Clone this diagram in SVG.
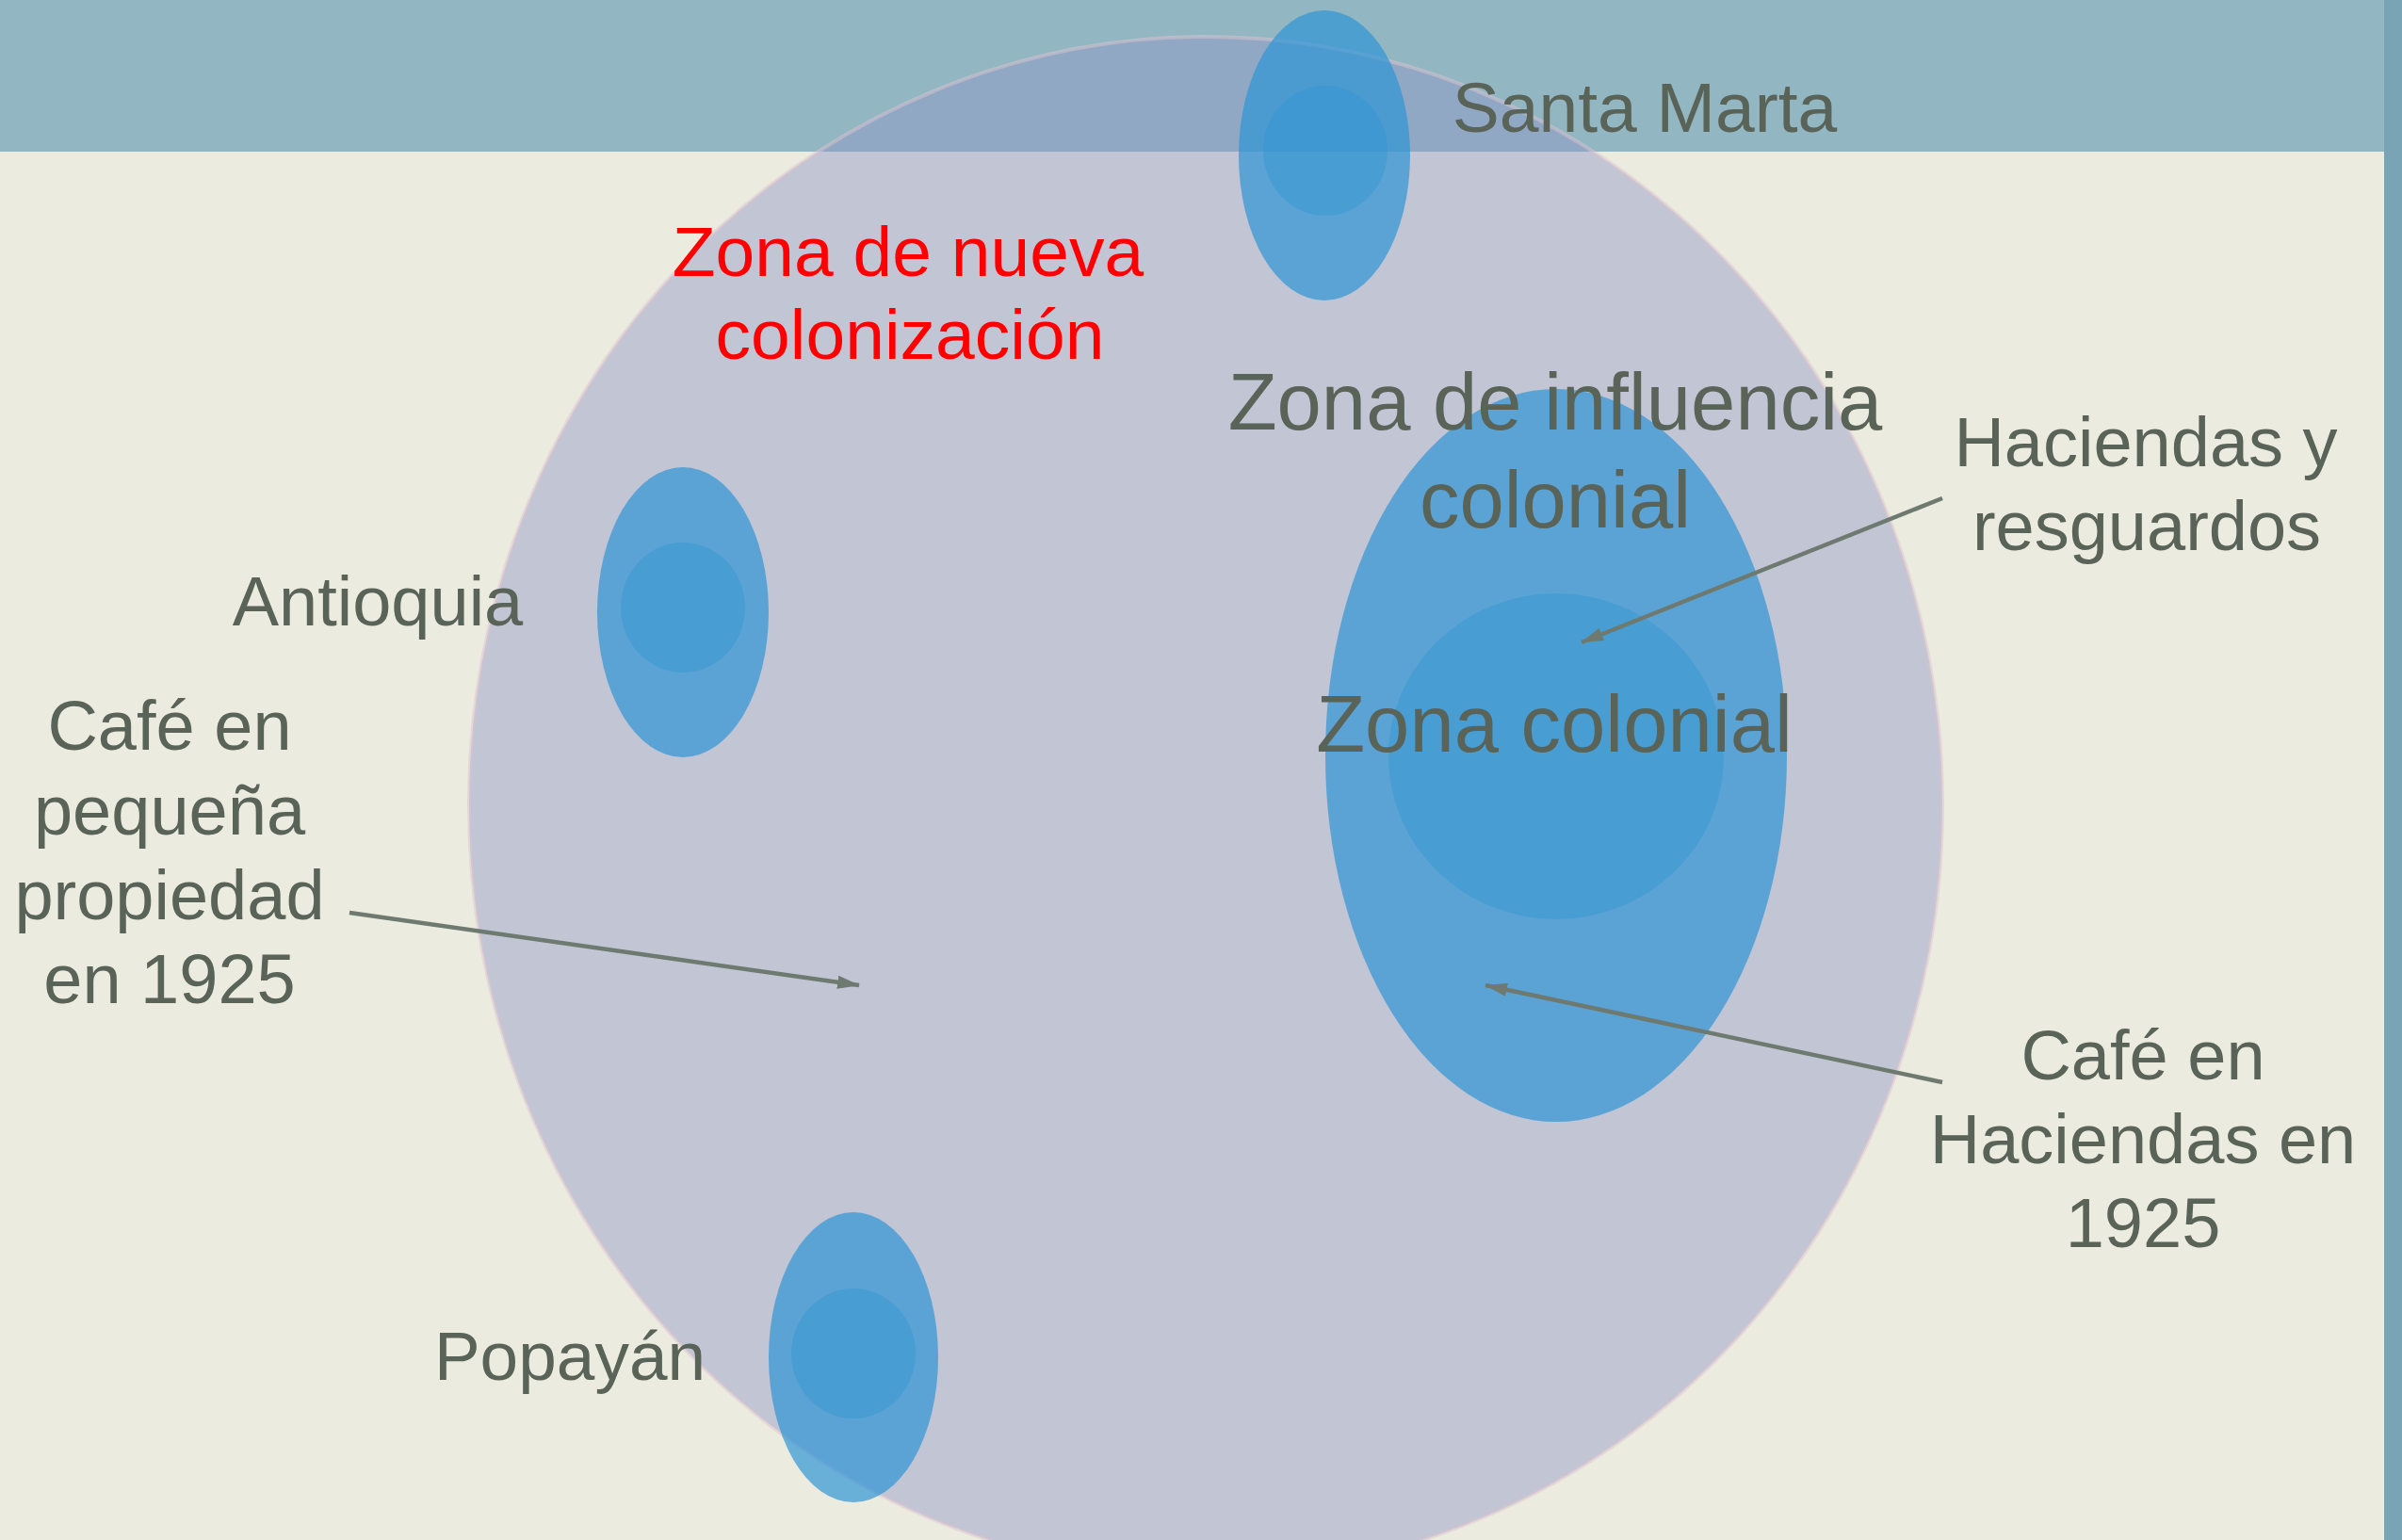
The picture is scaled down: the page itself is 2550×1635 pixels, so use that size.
<svg xmlns="http://www.w3.org/2000/svg" width="2550" height="1635" viewBox="0 0 2550 1635">
<style>
.lbl{font-family:"Liberation Sans",Arial,sans-serif;fill:#5a6358;text-anchor:middle}
.red{font-family:"Liberation Sans",Arial,sans-serif;fill:#ff0000;text-anchor:middle}
.conn{stroke:#6e7a70;stroke-width:4.5;fill:none}
.outer{fill:#2b93d5;fill-opacity:0.68}
.inner{fill:#2f96d2;fill-opacity:0.42}
</style>
<defs>
<marker id="ah" markerUnits="userSpaceOnUse" markerWidth="24" markerHeight="16" viewBox="0 0 24 16" refX="23" refY="8" orient="auto">
<path d="M0,1 L24,8 L0,15 Z" fill="#6e7a70"/>
</marker>
</defs>
<g id="background">
<rect x="0" y="0" width="2550" height="1635" fill="#ebebdf"/>
<rect x="0" y="0" width="2550" height="161" fill="#92b6c2"/>
<rect x="2531" y="0" width="19" height="1635" fill="#78a4b6"/>
</g>
<g id="zona-nueva-colonizacion">
<ellipse cx="1280" cy="855" rx="782" ry="816" fill="#8e97c8" fill-opacity="0.45" stroke="#dcc3cf" stroke-opacity="0.5" stroke-width="4"/>
</g>
<g id="santa-marta">
<ellipse class="outer" cx="1406" cy="165" rx="91" ry="154"/>
<ellipse class="inner" cx="1407" cy="160" rx="66" ry="69"/>
<text class="lbl" x="1746" y="140" font-size="75">Santa Marta</text>
</g>
<g id="antioquia">
<ellipse class="outer" cx="725" cy="650" rx="91" ry="154"/>
<ellipse class="inner" cx="725" cy="645" rx="66" ry="69"/>
<text class="lbl" x="401" y="664" font-size="74">Antioquia</text>
</g>
<g id="popayan">
<ellipse class="outer" cx="906" cy="1441" rx="90" ry="154"/>
<ellipse class="inner" cx="906" cy="1437" rx="66" ry="69"/>
<text class="lbl" x="605" y="1465" font-size="73">Popayán</text>
</g>
<g id="zona-colonial">
<ellipse class="outer" cx="1652" cy="802" rx="245" ry="389"/>
<ellipse class="inner" cx="1652" cy="803" rx="178" ry="173"/>
<text class="lbl" x="1651" y="456" font-size="85">Zona de influencia</text>
<text class="lbl" x="1651" y="560" font-size="85">colonial</text>
<text class="lbl" x="1650" y="798" font-size="85">Zona colonial</text>
</g>
<g id="label-nueva-colonizacion">
<text class="red" x="964" y="293" font-size="75">Zona de nueva</text>
<text class="red" x="966" y="381" font-size="75">colonización</text>
</g>
<g id="label-haciendas-resguardos">
<text class="lbl" x="2278" y="495" font-size="74">Haciendas y</text>
<text class="lbl" x="2279" y="584" font-size="74">resguardos</text>
</g>
<g id="label-cafe-haciendas">
<text class="lbl" x="2275" y="1146" font-size="74">Café en</text>
<text class="lbl" x="2275" y="1235" font-size="74">Haciendas en</text>
<text class="lbl" x="2275" y="1324" font-size="74">1925</text>
</g>
<g id="label-cafe-pequena">
<text class="lbl" x="180" y="796" font-size="74">Café en</text>
<text class="lbl" x="180" y="886" font-size="74">pequeña</text>
<text class="lbl" x="180" y="976" font-size="74">propiedad</text>
<text class="lbl" x="180" y="1065" font-size="74">en 1925</text>
</g>
<g id="connectors">
<line class="conn" x1="2062" y1="529" x2="1679" y2="682" marker-end="url(#ah)"/>
<line class="conn" x1="2062" y1="1149" x2="1577" y2="1046" marker-end="url(#ah)"/>
<line class="conn" x1="371" y1="969" x2="912" y2="1046" marker-end="url(#ah)"/>
</g>
</svg>
